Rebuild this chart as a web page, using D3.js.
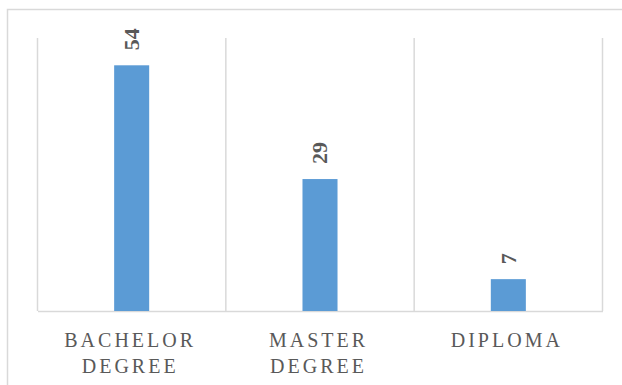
<!DOCTYPE html>
<html>
<head>
<meta charset="utf-8">
<script src="https://cdn.jsdelivr.net/npm/d3@7"></script>
<style>
  html, body { margin: 0; padding: 0; background: #fff; }
  svg { display: block; }
  text { font-family: "Liberation Serif", "Times New Roman", serif; }
</style>
</head>
<body>
<svg id="chart" width="622" height="385"></svg>
<script>
// Qualification counts
const categories = ["BACHELOR DEGREE", "MASTER DEGREE", "DIPLOMA"];
const categoryLines = [["BACHELOR", "DEGREE"], ["MASTER", "DEGREE"], ["DIPLOMA"]];
const values = [54, 29, 7];
const yDomain = [0, 60];

const W = 622, H = 385;
const plot = { left: 37.5, right: 602.5, top: 38, bottom: 311 };

const svg = d3.select("#chart");

// chart frame (only top and left edges fall inside the canvas)
svg.append("rect")
  .attr("x", 7.5).attr("y", 9.5)
  .attr("width", W + 20).attr("height", H + 20)
  .attr("fill", "none")
  .attr("stroke", "#D9D9D9")
  .attr("stroke-width", 1.5);

const x = d3.scaleBand()
  .domain(categories)
  .range([plot.left, plot.right])
  .paddingInner(0)
  .paddingOuter(0);

const y = d3.scaleLinear().domain(yDomain).range([plot.bottom, plot.top]);

// vertical gridlines at category boundaries
const bounds = categories.map(c => x(c)).concat([x.range()[1]]);
svg.append("g")
  .selectAll("line")
  .data(bounds)
  .join("line")
  .attr("x1", d => d).attr("x2", d => d)
  .attr("y1", y(yDomain[1])).attr("y2", y(0))
  .attr("stroke", "#D9D9D9")
  .attr("stroke-width", 1.5);

// category axis
const axis = svg.append("g")
  .attr("transform", `translate(0,${y(0)})`)
  .call(d3.axisBottom(x).tickSize(0).tickFormat(""));
axis.select(".domain").attr("stroke", "#D9D9D9").attr("stroke-width", 1.5);

// bars
const barW = x.bandwidth() * 0.186;
svg.append("g")
  .selectAll("rect")
  .data(values)
  .join("rect")
  .attr("x", (d, i) => x(categories[i]) + x.bandwidth() / 2 - barW / 2)
  .attr("y", d => y(d))
  .attr("width", barW)
  .attr("height", d => y(0) - y(d))
  .attr("fill", "#5B9BD5");

// value labels, rotated
svg.append("g")
  .selectAll("text")
  .data(values)
  .join("text")
  .attr("transform", (d, i) =>
    `translate(${x(categories[i]) + x.bandwidth() / 2},${y(d) - 15}) rotate(-90)`)
  .attr("dy", "0.34em")
  .attr("text-anchor", "start")
  .style("font-weight", "bold")
  .style("font-size", "22px")
  .attr("fill", "#595959")
  .text(d => d);

// category labels
const labels = svg.append("g")
  .selectAll("text")
  .data(categories)
  .join("text")
  .attr("text-anchor", "middle")
  .style("font-size", "20px")
  .style("letter-spacing", "3px")
  .attr("fill", "#595959");

labels.each(function (c, i) {
  const t = d3.select(this);
  categoryLines[i].forEach((line, j) => {
    t.append("tspan")
      .attr("x", x(c) + x.bandwidth() / 2 - 1.5)
      .attr("y", 346.5 + j * 26.5)
      .text(line);
  });
});
</script>
</body>
</html>
